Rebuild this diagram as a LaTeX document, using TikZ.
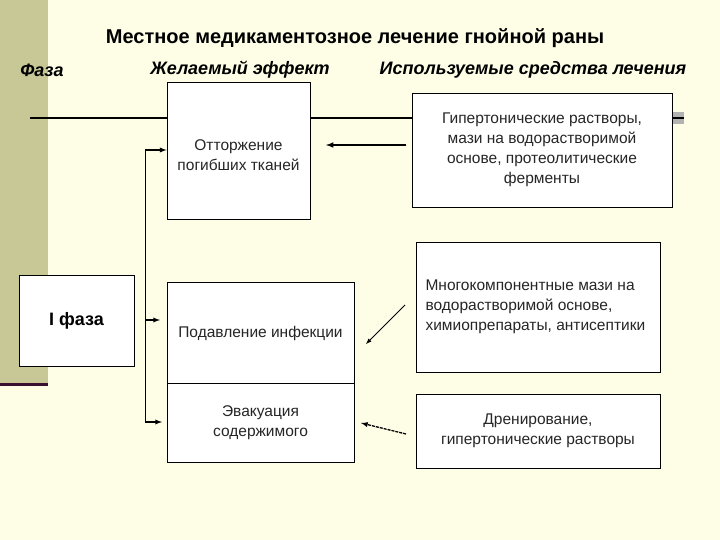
\documentclass[tikz,border=0pt]{standalone}
\usepackage{fontspec}
\setmainfont{Liberation Sans}
\begin{document}
\begin{tikzpicture}[x=1pt,y=-1pt,
  box/.style={draw=black,fill=white,line width=0.9pt,inner sep=0pt},
  txt/.style={font=\fontsize{15.5}{20}\selectfont,align=center,text=black!85},
  hdr/.style={font=\fontsize{18}{21}\selectfont\bfseries\itshape},
  arr/.style={-latex,line width=1.3pt}]
\definecolor{bg}{HTML}{FEFDE6}
\definecolor{olive}{HTML}{C8C896}
\definecolor{plum}{HTML}{3A1030}
\fill[bg] (0,0) rectangle (720,540);
\useasboundingbox (0,0) rectangle (720,540);
\fill[olive] (0,0) rectangle (48,383);
\fill[plum] (0,383) rectangle (48,386);
\fill[gray!60] (672,112) rectangle (684,124);
\draw[line width=1.3pt] (30,118) -- (412,118);
\draw[line width=1.3pt] (672,118) -- (684,118);
\node[font=\fontsize{20}{24}\selectfont\bfseries] (title) at (355,38) {Местное медикаментозное лечение гнойной раны};
\node[hdr] (h1) at (42,70) {Фаза};
\node[hdr] (h2) at (240,70) {Желаемый эффект};
\node[hdr] (h3) at (533,70) {Используемые средства лечения};
\node[box,minimum width=143pt,minimum height=137pt] (b1) at (238.5,150.5) {};
\node[txt] at (238.5,155) {Отторжение\\погибших тканей};
\node[box,minimum width=260pt,minimum height=114pt,txt] (r1) at (542,150) {Гипертонические растворы,\\мази на водорастворимой\\основе, протеолитические\\ферменты};
\node[box,minimum width=115pt,minimum height=91pt,font=\fontsize{18}{21}\selectfont\bfseries] (ph) at (76.5,320.5) {I фаза};
\node[box,minimum width=187pt,minimum height=101pt] (sup) at (260.5,332.5) {};
\node[txt] at (260.5,333) {Подавление инфекции};
\node[box,minimum width=187pt,minimum height=79pt,txt] (ev) at (260.5,422.5) {Эвакуация\\содержимого};
\node[box,minimum width=244pt,minimum height=130pt] (r2) at (538,307) {};
\node[txt,align=left,anchor=west] at (422,307) {Многокомпонентные мази на\\водорастворимой основе,\\химиопрепараты, антисептики};
\node[box,minimum width=244pt,minimum height=74pt,txt] (r3) at (538,431) {Дренирование,\\гипертонические растворы};
\coordinate (t) at (145,150);
\coordinate (m) at (145,320);
\coordinate (e) at (145,422);
\draw[line width=1pt] (t) -- (e);
\draw[arr] (t) -- (b1.west |- t);
\draw[arr] (m) -- ++(15,0) coordinate (me);
\draw[arr] (e) -- ++(17,0) coordinate (ee);
\coordinate (a1s) at (406,145); \coordinate (a1e) at (326,145);
\draw[arr,line width=1.5pt] (a1s) -- (a1e);
\coordinate (a2s) at (405,305); \coordinate (a2e) at (366,344);
\draw[arr,line width=0.9pt] (a2s) -- (a2e);
\coordinate (a3s) at (406,434); \coordinate (a3e) at (361,423);
\draw[arr,dash pattern=on 3pt off 1pt] (a3s) -- (a3e);
\end{tikzpicture}
\end{document}
